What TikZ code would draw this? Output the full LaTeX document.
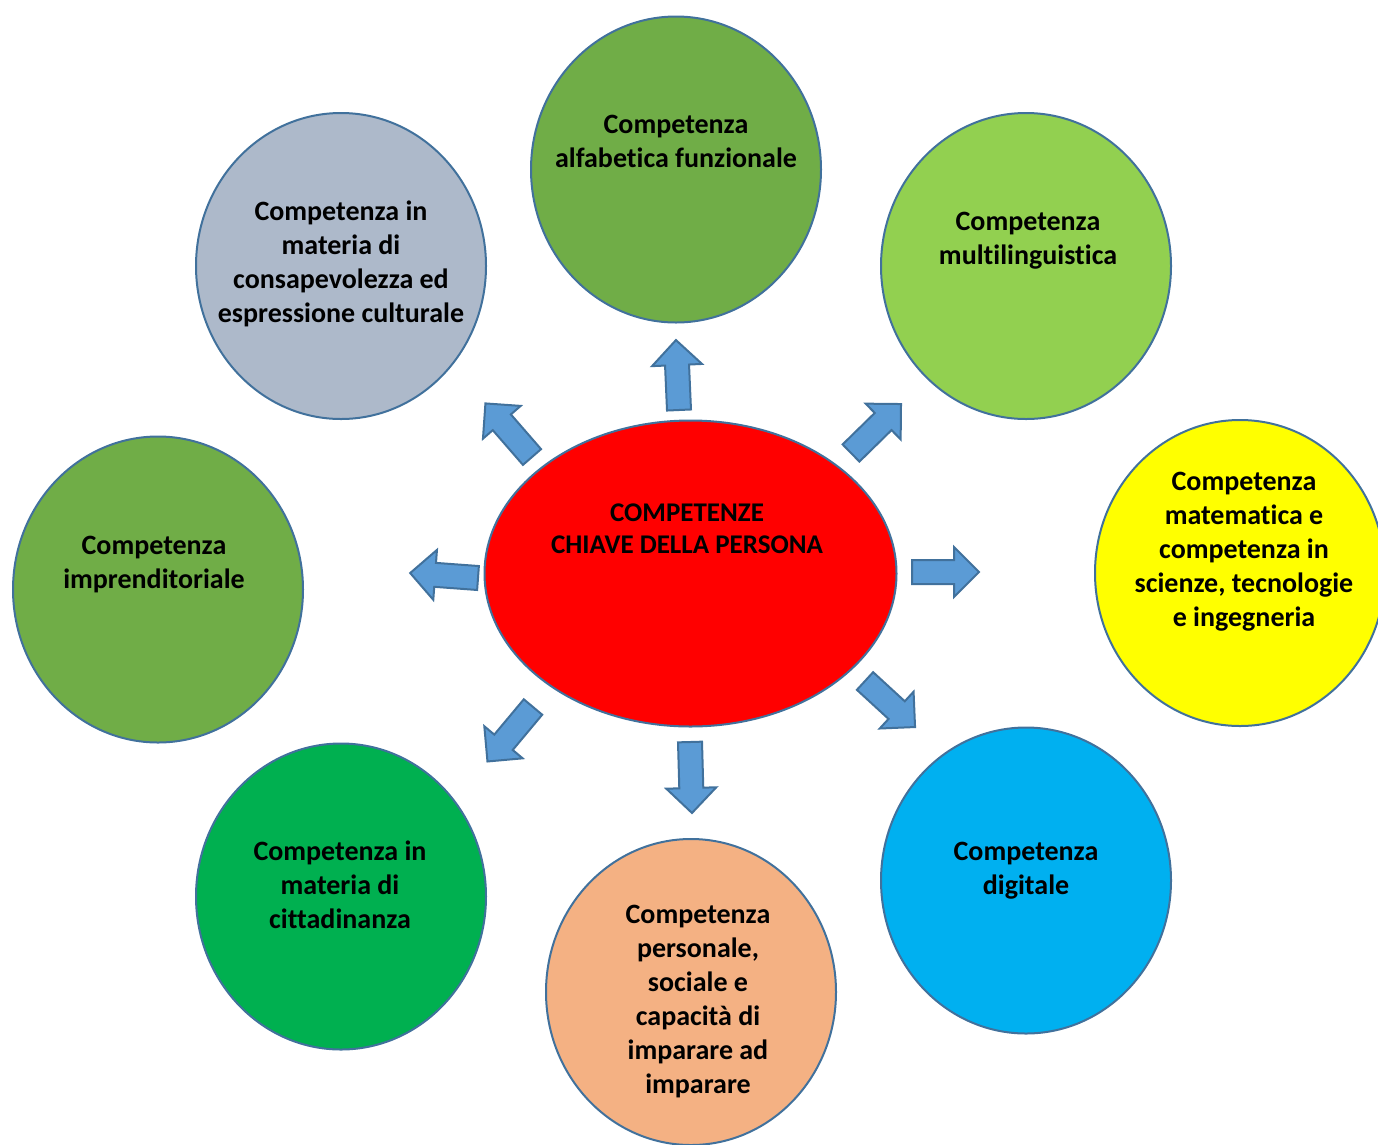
\documentclass[tikz,border=0pt]{standalone}
\usepackage{fontspec}
\setmainfont{Carlito}[Ligatures=NoCommon]
\usetikzlibrary{shapes.geometric}

\definecolor{outline}{HTML}{41719C}
\definecolor{arrowblue}{HTML}{5B9BD5}
\definecolor{darkgreen}{HTML}{70AD47}
\definecolor{lightgreen}{HTML}{92D050}
\definecolor{bluegray}{HTML}{ADB9CA}
\definecolor{skyblue}{HTML}{00B0F0}
\definecolor{peach}{HTML}{F4B183}
\definecolor{midgreen}{HTML}{00B050}
\definecolor{brightyellow}{HTML}{FFFF00}

\tikzset{
  bubble/.style={ellipse, draw=outline, line width=2pt, inner sep=0pt,
    minimum width=290pt, minimum height=306pt},
  caption/.style={align=center, inner sep=0pt,
    font=\bfseries\fontsize{28}{34}\selectfont},
  blockarrow/.style={fill=arrowblue, draw=outline, line width=2pt, line join=miter}
}

\begin{document}
\begin{tikzpicture}[x=1pt, y=-1pt]
			\useasboundingbox (0,0) rectangle (1378,1144);
			\clip (0,0) rectangle (1378,1144);
			
			% centre
			\node[bubble, fill=red, minimum width=412pt] (core) at (690.5,573.5) {};
			\node[caption, font=\bfseries\fontsize{27}{32}\selectfont] (core-t) at (687,528.5) {COMPETENZE\\CHIAVE DELLA PERSONA};
			
			% the eight competences
			\node[bubble, fill=darkgreen] (alfa) at (676,169.5) {};
			\node[bubble, fill=lightgreen] (multi) at (1026,266) {};
			\node[bubble, fill=brightyellow] (mate) at (1240,573) {};
			\node[bubble, fill=skyblue] (digi) at (1026,880.5) {};
			\node[bubble, fill=peach] (pers) at (691,992) {};
			\node[bubble, fill=midgreen] (citt) at (341,896.5) {};
			\node[bubble, fill=darkgreen] (impr) at (158,589.5) {};
			\node[bubble, fill=bluegray] (cult) at (341,266) {};
			
			\node[caption] (alfa-t) at (676,141) {Competenza\\alfabetica funzionale};
			\node[caption] (multi-t) at (1028,241) {Competenza\\multilinguistica};
			\node[caption] (mate-t) at (1244,551.5) {Competenza\\matematica e\\competenza in\\scienze, tecnologie\\e ingegneria};
			\node[caption] (digi-t) at (1026,871) {Competenza\\digitale};
			\node[caption] (pers-t) at (698,1002) {Competenza\\personale,\\sociale e\\capacità di\\imparare ad\\imparare};
			\node[caption] (citt-t) at (340,885) {Competenza in\\materia di\\cittadinanza};
			\node[caption] (impr-t) at (154,565) {Competenza\\imprenditoriale};
			\node[caption] (cult-t) at (341,263.5) {Competenza in\\materia di\\consapevolezza ed\\espressione culturale};
			
			% arrows
			\draw[blockarrow, shift={(679,410)}, rotate=92.5] (0,-12) -- (45,-12) -- (45,-25) -- (70,0) -- (45,25) -- (45,12) -- (0,12) -- cycle;
			\draw[blockarrow, shift={(851,453)}, rotate=44.4] (0,-12) -- (45,-12) -- (45,-25) -- (70,0) -- (45,25) -- (45,12) -- (0,12) -- cycle;
			\draw[blockarrow, shift={(912,572)}, rotate=0] (0,-12) -- (42,-12) -- (42,-25) -- (67,0) -- (42,25) -- (42,12) -- (0,12) -- cycle;
			\draw[blockarrow, shift={(865,681)}, rotate=-42.6] (0,-12) -- (43,-12) -- (43,-25) -- (68,0) -- (43,25) -- (43,12) -- (0,12) -- cycle;
			\draw[blockarrow, shift={(690,742)}, rotate=-88.4] (0,-12) -- (46,-12) -- (46,-25) -- (71,0) -- (46,25) -- (46,12) -- (0,12) -- cycle;
			\draw[blockarrow, shift={(533,707)}, rotate=-129.9] (0,-12) -- (46,-12) -- (46,-25) -- (71,0) -- (46,25) -- (46,12) -- (0,12) -- cycle;
			\draw[blockarrow, shift={(478,578)}, rotate=175.8] (0,-12) -- (43,-12) -- (43,-25) -- (68,0) -- (43,25) -- (43,12) -- (0,12) -- cycle;
			\draw[blockarrow, shift={(532,457)}, rotate=131] (0,-12) -- (46,-12) -- (46,-25) -- (71,0) -- (46,25) -- (46,12) -- (0,12) -- cycle;
		\end{tikzpicture}
\end{document}
